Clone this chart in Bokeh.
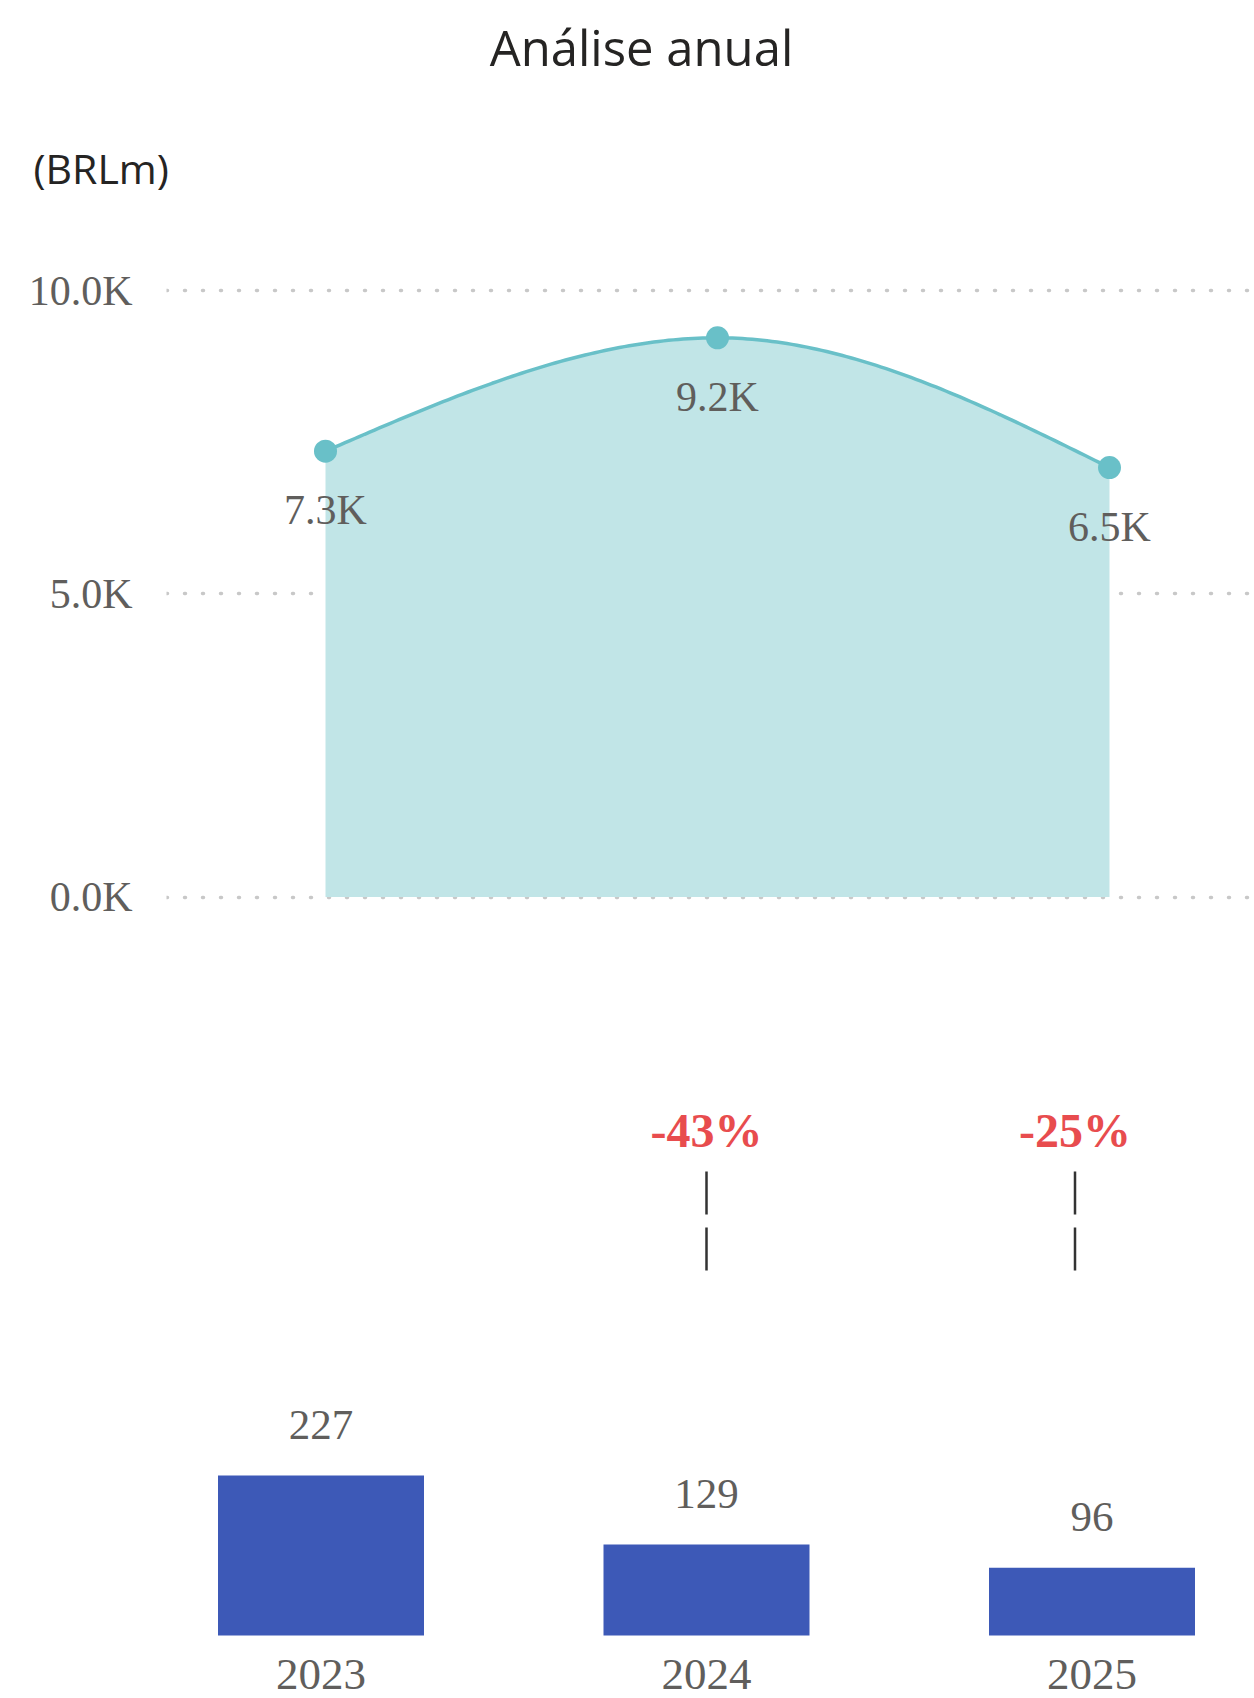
import numpy as np
from bokeh.plotting import figure
from bokeh.models import Range1d, FixedTicker, ColumnDataSource
from bokeh.core.properties import value
from bokeh.embed import file_html
from bokeh.resources import INLINE

# ---------------- data ----------------
title_text = "Análise anual"
unit_text = "(BRLm)"
years = [2023, 2024, 2025]
year_labels = ["2023", "2024", "2025"]
revenue = [7350, 9220, 7080]                 # plotted values (BRLm)
revenue_labels = ["7.3K", "9.2K", "6.5K"]    # data labels as shown
y_ticks = [0, 5000, 10000]
y_tick_labels = ["0.0K", "5.0K", "10.0K"]
volume = [227, 129, 96]
volume_labels = ["227", "129", "96"]
change_years = [2024, 2025]
change_labels = ["-43%", "-25%"]

# ---------------- styles ----------------
W = 1254
SERIF = "Liberation Serif"
SANS = "Open Sans"
GRAY = "#605E5C"
TEAL = "#69C0C8"
TEAL_FILL = "#C1E5E7"
BLUE = "#3D59B7"
RED = "#E84C4E"


def monotone_curve(xs, ys, n=80):
    """Monotone cubic (d3 curveMonotoneX) rendering of a polyline."""
    x = np.asarray(xs, float)
    y = np.asarray(ys, float)
    h = np.diff(x)
    s = np.diff(y) / h
    m = np.zeros(len(x))
    for i in range(1, len(x) - 1):
        if s[i - 1] * s[i] <= 0:
            m[i] = 0.0
        else:
            p = (s[i - 1] * h[i] + s[i] * h[i - 1]) / (h[i - 1] + h[i])
            m[i] = (np.sign(s[i - 1]) + np.sign(s[i])) * min(abs(s[i - 1]), abs(s[i]), 0.5 * abs(p))
    m[0] = (3 * s[0] - m[1]) / 2
    m[-1] = (3 * s[-1] - m[-2]) / 2
    cx, cy = [], []
    for i in range(len(x) - 1):
        t = np.linspace(0, 1, n, endpoint=(i == len(x) - 2))
        h00 = 2 * t**3 - 3 * t**2 + 1
        h10 = t**3 - 2 * t**2 + t
        h01 = -2 * t**3 + 3 * t**2
        h11 = t**3 - t**2
        cx.extend(x[i] + t * h[i])
        cy.extend(h00 * y[i] + h10 * h[i] * m[i] + h01 * y[i + 1] + h11 * h[i] * m[i + 1])
    return np.array(cx), np.array(cy)


# ---------------- header ----------------
H1 = 230
head = figure(width=W, height=H1, x_range=Range1d(0, W), y_range=Range1d(H1, 0),
              x_axis_location=None, y_axis_location=None, toolbar_location=None,
              output_backend="svg", min_border=0, outline_line_color=None)
head.grid.visible = False
head.text(x=[641], y=[46], text=[title_text], text_font=value(SANS), text_font_size="49px",
          text_color="#252423", text_align="center", text_baseline="alphabetic")
head.text(x=[33], y=[167], text=[unit_text], text_font=value(SANS), text_font_size="41px",
          text_color="#252423", text_align="left", text_baseline="alphabetic")

# ---------------- area chart ----------------
H2 = 730
PX_PER_YEAR_A = 392.0
LEFT_A = 166
frame_w_a = W - LEFT_A
x0a = years[0] - (325 - LEFT_A) / PX_PER_YEAR_A
PX_PER_UNIT_A = 0.06065
frame_h_a = 700
zero_from_top = 646.5
area = figure(width=W, height=H2, toolbar_location=None, output_backend="svg",
              x_range=Range1d(x0a, x0a + frame_w_a / PX_PER_YEAR_A),
              y_range=Range1d(-(frame_h_a - zero_from_top) / PX_PER_UNIT_A, zero_from_top / PX_PER_UNIT_A),
              x_axis_location=None, min_border_left=LEFT_A, min_border_right=0,
              min_border_top=20, min_border_bottom=10, outline_line_color=None)
area.xgrid.visible = False
area.ygrid.ticker = FixedTicker(ticks=y_ticks)
area.ygrid.grid_line_color = "#C8C8C8"
area.ygrid.grid_line_width = 3.5
area.ygrid.grid_line_dash = "1 17"
area.ygrid.grid_line_cap = "round"
ax = area.yaxis[0]
ax.ticker = FixedTicker(ticks=y_ticks)
ax.major_label_overrides = dict(zip(y_ticks, y_tick_labels))
ax.axis_line_color = None
ax.major_tick_line_color = None
ax.minor_tick_line_color = None
ax.major_tick_out = 0
ax.major_tick_in = 0
ax.minor_tick_out = 0
ax.major_label_standoff = 34
ax.major_label_text_font = SERIF
ax.major_label_text_font_size = "42px"
ax.major_label_text_color = GRAY

cx, cy = monotone_curve(years, revenue)
area.varea(x=cx, y1=np.zeros_like(cy), y2=cy, fill_color=TEAL_FILL)
area.line(cx, cy, line_color=TEAL, line_width=3.5)
src_a = ColumnDataSource(dict(x=years, y=revenue, lab=revenue_labels))
area.scatter("x", "y", source=src_a, size=23, fill_color=TEAL, line_color=None)
area.text("x", "y", text="lab", source=src_a, y_offset=59, text_align="center",
          text_baseline="middle", text_font=value(SERIF), text_font_size="42px", text_color=GRAY)

# ---------------- bar chart ----------------
H3 = 738
PX_PER_YEAR_B = 385.5
x0b = years[0] - 320.5 / PX_PER_YEAR_B
PX_PER_UNIT_B = 160 / 227
base_from_bottom = 63          # bar baseline sits 63px above the figure bottom
bars = figure(width=W, height=H3, toolbar_location=None, output_backend="svg",
              x_range=Range1d(x0b, x0b + W / PX_PER_YEAR_B),
              y_range=Range1d(-base_from_bottom / PX_PER_UNIT_B, (H3 - base_from_bottom) / PX_PER_UNIT_B),
              y_axis_location=None, min_border=0, outline_line_color=None)
bars.grid.visible = False
bx = bars.xaxis[0]
bx.fixed_location = 0
bx.ticker = FixedTicker(ticks=years)
bx.major_label_overrides = dict(zip(years, year_labels))
bx.axis_line_color = None
bx.major_tick_line_color = None
bx.minor_tick_line_color = None
bx.major_label_standoff = 18
bx.major_label_text_font = SERIF
bx.major_label_text_font_size = "45px"
bx.major_label_text_color = GRAY

src_b = ColumnDataSource(dict(x=years, top=volume, lab=volume_labels))
bars.vbar(x="x", top="top", bottom=0, width=206 / PX_PER_YEAR_B, source=src_b,
          fill_color=BLUE, line_color=None)
bars.text("x", "top", text="lab", source=src_b, y_offset=-51, text_align="center",
          text_baseline="middle", text_font=value(SERIF), text_font_size="43px", text_color=GRAY)

# change annotations (layout positions in px above the bar baseline)
change_dx_px = [0, -17]
label_px = 505
line_top_px = 464
line_bot_px = 364
cxs = [yr + d / PX_PER_YEAR_B for yr, d in zip(change_years, change_dx_px)]
src_c = ColumnDataSource(dict(x=cxs, lab=change_labels))
bars.text("x", y=label_px / PX_PER_UNIT_B, text="lab", source=src_c, text_align="center",
          text_baseline="middle", text_font=value(SERIF), text_font_size="48px",
          text_font_style="bold", text_color=RED)
bars.segment(x0=cxs, y0=[line_top_px / PX_PER_UNIT_B] * len(cxs), x1=cxs,
             y1=[line_bot_px / PX_PER_UNIT_B] * len(cxs), line_color="#333333",
             line_width=2.5, line_dash="43 13")

open("out.html", "w").write(file_html([head, area, bars], INLINE))
